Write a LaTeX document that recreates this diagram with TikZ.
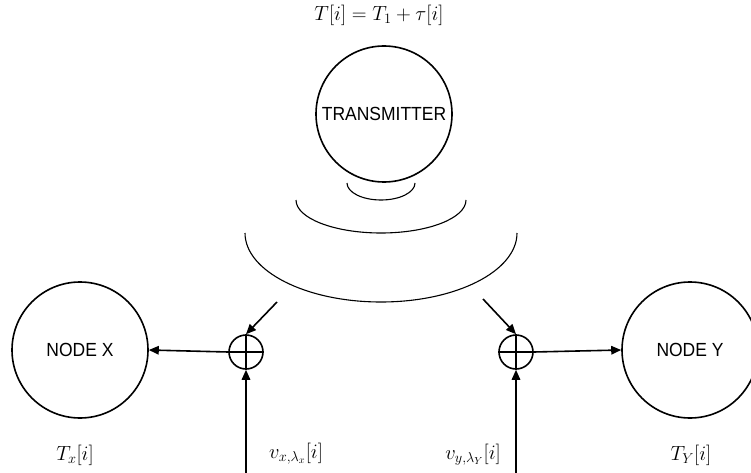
\RequirePackage{fix-cm}
\documentclass[tikz,border=0pt]{standalone}
\usepackage{amsmath,amssymb}
\usepackage{fontspec}
\usepackage{tikz}
\usetikzlibrary{arrows.meta, positioning, calc}
\newfontfamily\boxfont[FakeStretch=0.92]{Liberation Sans}

\begin{document}
\begin{tikzpicture}[
    x=1pt, y=-1pt,
    station/.style={circle, draw, line width=1.6pt, minimum size=136pt, inner sep=0pt, align=center, font=\boxfont\fontsize{19}{21}\selectfont},
    adder/.style={circle, draw, line width=1.6pt, minimum size=34pt, inner sep=0pt},
    wave/.style={line width=1.1pt},
    sig/.style={font=\fontsize{20.5}{22}\selectfont},
    arr/.style={-{Triangle[length=10pt, width=8.5pt]}, line width=1.6pt},
]
    \useasboundingbox (0,0) rectangle (751,473);

    \node[station] (tx) at (384,114) {TRANSMITTER};
    \node[station] (nodex) at (80,350) {NODE X};
    \node[station] (nodey) at (690,350) {NODE Y};
    \node[sig] (tlaw) at (379,15) {$T[i]=T_1+\tau[i]$};

    \node[adder] (sumx) at (246,352) {};
    \node[adder] (sumy) at (516,352) {};
    \draw[line width=1.6pt] (sumx.north) -- (sumx.south) (sumx.west) -- (sumx.east);
    \draw[line width=1.6pt] (sumy.north) -- (sumy.south) (sumy.west) -- (sumy.east);

    % radiated wavefronts
    \draw[wave] (347,183) arc[start angle=180, end angle=0, x radius=34, y radius=17];
    \draw[wave] (296,200) arc[start angle=180, end angle=0, x radius=85, y radius=33];
    \draw[wave] (245,233) arc[start angle=180, end angle=0, x radius=136, y radius=69];

    \coordinate (rxx) at (277,302);
    \coordinate (rxy) at (483,299);
    \coordinate (nzx) at (246,473);
    \coordinate (nzy) at (516,473);

    \draw[arr] (rxx) -- (sumx.north);
    \draw[arr] (rxy) -- (sumy.north);
    \draw[arr] (nzx) -- (sumx.south);
    \draw[arr] (nzy) -- (sumy.south);
    \draw[arr] (sumx.west) -- (nodex.east);
    \draw[arr] (sumy.east) -- (nodey.west);

    \node[sig] (tx_i) at (75,455) {$T_x[i]$};
    \node[sig] (vx_i) at (296,454) {$v_{x,\lambda_x}[i]$};
    \node[sig] (vy_i) at (473,455) {$v_{y,\lambda_Y}[i]$};
    \node[sig] (ty_i) at (691,455) {$T_Y[i]$};
\end{tikzpicture}
\end{document}
